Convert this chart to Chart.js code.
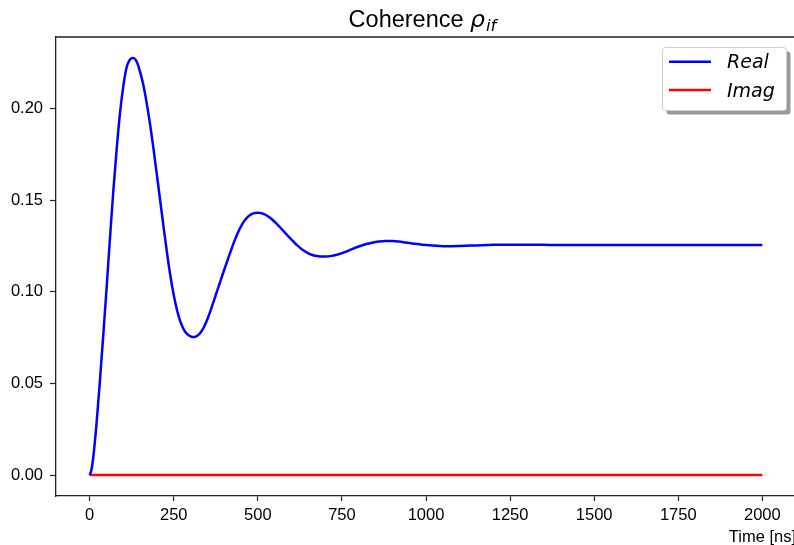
<!DOCTYPE html>
<html>
<head>
<meta charset="utf-8">
<title>Coherence</title>
<script src="https://cdn.jsdelivr.net/npm/chart.js@4"></script>
<style>
html, body { margin: 0; padding: 0; background: #fff; overflow: hidden; }
#wrap { width: 794px; height: 545px; overflow: hidden; }
canvas { display: block; }
</style>
</head>
<body>
<div id="wrap"><canvas id="canvas" width="800" height="545"></canvas></div>
<script>
// time axis in ns, coherence values (real part)
var timeNs = [0, 5, 10, 20, 30, 40, 50, 60, 70, 80, 90, 100, 110, 120, 130, 140, 150, 160, 170, 180, 190,
    200, 210, 220, 230, 240, 250, 260, 270, 280, 290, 300, 310, 320, 330, 340, 350, 360, 370, 380, 390,
    400, 410, 420, 430, 440, 450, 460, 470, 480, 490, 500, 510, 520, 530, 540, 550, 560, 570, 580, 590,
    600, 610, 620, 630, 640, 650, 660, 670, 680, 690, 700, 720, 740, 760, 780, 800, 820, 840, 860, 880,
    900, 920, 940, 960, 980, 1000, 1020, 1040, 1060, 1080, 1100, 1150, 1200, 1250, 1300, 1350, 1400,
    1500, 1600, 1700, 1800, 1900, 2000];
var realPart = [0, 0.0025, 0.0085, 0.027, 0.050, 0.075, 0.101, 0.128, 0.154, 0.177, 0.197, 0.212, 0.2225, 0.2267, 0.2276, 0.2255, 0.2200, 0.2125, 0.2025, 0.1910, 0.1778,
    0.1637, 0.1494, 0.1351, 0.1213, 0.1088, 0.0982, 0.0898, 0.0836, 0.0794, 0.0769, 0.0757, 0.0753, 0.0760, 0.0778, 0.0808, 0.0850, 0.0900, 0.0955, 0.1010, 0.1065,
    0.1120, 0.1172, 0.1225, 0.1275, 0.1320, 0.1357, 0.1387, 0.1408, 0.1422, 0.1429, 0.1431, 0.1429, 0.1422, 0.1412, 0.1398, 0.1382, 0.1364, 0.1344, 0.1324, 0.1304,
    0.1285, 0.1266, 0.1249, 0.1234, 0.1221, 0.1210, 0.1202, 0.1197, 0.1194, 0.1193, 0.1193, 0.1196, 0.1205, 0.1218, 0.1233, 0.1247, 0.1259, 0.1268, 0.1274, 0.1277,
    0.1277, 0.1274, 0.1269, 0.1264, 0.1259, 0.1255, 0.1252, 0.1250, 0.1249, 0.1249, 0.1250, 0.1253, 0.1256, 0.1257, 0.1257, 0.1256, 0.1255,
    0.1255, 0.1255, 0.1255, 0.1255, 0.1255, 0.1255];

// imaginary part stays at zero
var imagTime = [0, 500, 1000, 1500, 2000];
var imagPart = [0, 0, 0, 0, 0];

var xTicks = [0, 250, 500, 750, 1000, 1250, 1500, 1750, 2000];
var yTicks = [0, 0.05, 0.10, 0.15, 0.20];

var SANS = "'Liberation Sans', Arial, Helvetica, sans-serif";
var MATH = "'DejaVu Sans', sans-serif";

function pts(xs, ys) {
    return xs.map(function (x, i) { return { x: x, y: ys[i] }; });
}

// frame, title, axis label and boxed legend
var decor = {
    id: 'decor',
    afterDraw: function (chart) {
        var ctx = chart.ctx, a = chart.chartArea;
        ctx.save();

        // top + right spines
        ctx.strokeStyle = '#222';
        ctx.lineWidth = 1.3;
        ctx.beginPath();
        ctx.moveTo(a.left, a.top);
        ctx.lineTo(a.right, a.top);
        ctx.lineTo(a.right, a.bottom);
        ctx.stroke();

        // title: Coherence rho_if
        var t1 = 'Coherence ', t2 = '\u03C1', t3 = 'if';
        var f1 = '23.5px ' + SANS, f2 = 'italic 23.5px ' + MATH, f3 = 'italic 16.5px ' + MATH;
        ctx.font = f1; var w1 = ctx.measureText(t1).width;
        ctx.font = f2; var w2 = ctx.measureText(t2).width;
        ctx.font = f3; var w3 = ctx.measureText(t3).width;
        var x0 = (a.left + a.right) / 2 - (w1 + w2 + w3) / 2 - 4;
        ctx.fillStyle = '#000';
        ctx.textAlign = 'left';
        ctx.textBaseline = 'alphabetic';
        ctx.font = f1; ctx.fillText(t1, x0, 26.7);
        ctx.font = f2; ctx.fillText(t2, x0 + w1, 26.7);
        ctx.font = f3; ctx.fillText(t3, x0 + w1 + w2 + 1, 31);

        // x axis label, right aligned to the axes
        ctx.font = '16.5px ' + SANS;
        ctx.textAlign = 'right';
        ctx.fillText('Time [ns]', a.right, 541.5);

        // legend box with shadow
        var bx = 662.5, by = 47.5, bw = 124, bh = 63, r = 3;
        function box(x, y) {
            ctx.beginPath();
            ctx.moveTo(x + r, y);
            ctx.lineTo(x + bw - r, y);
            ctx.quadraticCurveTo(x + bw, y, x + bw, y + r);
            ctx.lineTo(x + bw, y + bh - r);
            ctx.quadraticCurveTo(x + bw, y + bh, x + bw - r, y + bh);
            ctx.lineTo(x + r, y + bh);
            ctx.quadraticCurveTo(x, y + bh, x, y + bh - r);
            ctx.lineTo(x, y + r);
            ctx.quadraticCurveTo(x, y, x + r, y);
            ctx.closePath();
        }
        box(bx + 4, by + 4);
        ctx.fillStyle = '#9a9a9a';
        ctx.fill();
        box(bx, by);
        ctx.fillStyle = '#fff';
        ctx.fill();
        ctx.strokeStyle = '#cccccc';
        ctx.lineWidth = 1;
        ctx.stroke();

        ctx.font = 'italic 19px ' + MATH;
        ctx.textAlign = 'left';
        chart.data.datasets.forEach(function (ds, i) {
            var ly = 61.7 + i * 28.4;
            ctx.strokeStyle = ds.borderColor;
            ctx.lineWidth = 2.5;
            ctx.beginPath();
            ctx.moveTo(669, ly);
            ctx.lineTo(711, ly);
            ctx.stroke();
            ctx.fillStyle = '#000';
            ctx.fillText(ds.label, 727, 68.3 + i * 28.4);
        });
        ctx.restore();
    }
};

var ctx = document.getElementById('canvas').getContext('2d');
var chart = new Chart(ctx, {
    type: 'line',
    data: {
        datasets: [
            { label: 'Real', data: pts(timeNs, realPart), borderColor: '#0000ff', borderWidth: 2.5,
              pointRadius: 0, fill: false, cubicInterpolationMode: 'monotone' },
            { label: 'Imag', data: pts(imagTime, imagPart), borderColor: '#ff0000', borderWidth: 2.5,
              pointRadius: 0, fill: false }
        ]
    },
    options: {
        responsive: false,
        animation: false,
        devicePixelRatio: 1,
        layout: { padding: { left: 0, right: 4, top: 37, bottom: 0 } },
        plugins: { legend: { display: false }, title: { display: false }, tooltip: { enabled: false } },
        scales: {
            x: {
                type: 'linear', min: -100, max: 2100,
                afterBuildTicks: function (s) { s.ticks = xTicks.map(function (v) { return { value: v }; }); },
                afterFit: function (s) { s.height = 49; },
                grid: { drawOnChartArea: false, drawTicks: true, tickLength: 5, color: '#222', tickWidth: 1.2 },
                border: { display: true, color: '#222', width: 1.3 },
                ticks: { color: '#000', font: { family: SANS, size: 16.5 }, padding: 5, maxRotation: 0, autoSkip: false,
                         callback: function (v) { return String(v); } }
            },
            y: {
                type: 'linear', min: -0.0114, max: 0.239,
                afterBuildTicks: function (s) { s.ticks = yTicks.map(function (v) { return { value: v }; }); },
                afterFit: function (s) { s.width = 56; },
                grid: { drawOnChartArea: false, drawTicks: true, tickLength: 6, color: '#222', tickWidth: 1.2 },
                border: { display: true, color: '#222', width: 1.3 },
                ticks: { color: '#000', font: { family: SANS, size: 16.5 }, padding: 7, autoSkip: false,
                         callback: function (v) { return v.toFixed(2); } }
            }
        }
    },
    plugins: [decor]
});
</script>
</body>
</html>
